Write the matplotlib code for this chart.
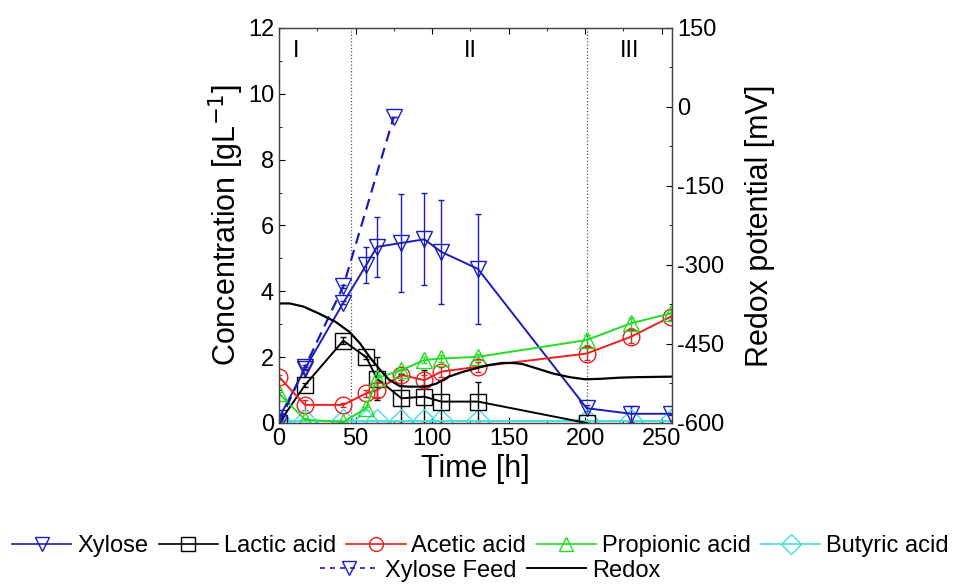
import matplotlib
matplotlib.use("Agg")
import matplotlib.pyplot as plt
from matplotlib.lines import Line2D
from matplotlib.ticker import MultipleLocator

plt.rcParams['font.family'] = ['Liberation Sans', 'DejaVu Sans']
plt.rcParams['axes.unicode_minus'] = False

# sampling times [h]
t = [0, 17, 42, 57, 64, 80, 95, 106, 130, 201, 230, 256]

xylose = [0.15, 1.65, 3.65, 4.8, 5.35, 5.47, 5.58, 5.2, 4.68, 0.45, 0.28, 0.28]
xylose_err = [0.03, 0.05, 0.05, 0.55, 0.9, 1.48, 1.4, 1.58, 1.67, 0.1, 0.25, 0.03]
# lactic acid was not measured after 201 h
t_lactic = [0, 17, 42, 57, 64, 80, 95, 106, 130, 201]
lactic = [0.0, 1.15, 2.5, 2.0, 1.35, 0.75, 0.8, 0.65, 0.65, 0.0]
lactic_err = [0.0, 0.07, 0.1, 0.05, 0.65, 0.75, 0.8, 0.65, 0.6, 0.0]
acetic = [1.4, 0.55, 0.55, 0.9, 1.0, 1.46, 1.3, 1.56, 1.71, 2.11, 2.62, 3.23]
acetic_err = [0.05, 0.15, 0.05, 0.1, 0.2, 0.15, 0.15, 0.15, 0.15, 0.2, 0.2, 0.1]
propionic = [0.9, 0.1, 0.03, 0.45, 1.36, 1.61, 1.91, 1.96, 2.01, 2.52, 3.03, 3.33]
propionic_err = [0.05, 0.05, 0.03, 0.05, 0.1, 0.1, 0.1, 0.1, 0.1, 0.15, 0.15, 0.1]
butyric = [0.05, 0.05, 0.05, 0.05, 0.05, 0.05, 0.05, 0.05, 0.05, 0.05, 0.05, 0.05]

# xylose feed
t_feed = [0, 17, 42, 75]
feed = [0.0, 1.7, 4.15, 9.3]
feed_err = [0.0, 0.05, 0.05, 0.0]

# redox potential [mV]
t_redox = [0, 7, 16, 26, 37, 46, 53, 59, 66, 72, 79, 85, 96, 103, 111, 120,
           129, 137, 146, 153, 159, 168, 179, 190, 200, 211, 222, 233, 257]
redox = [-373, -373, -379, -392, -408, -427, -449, -474, -499, -518, -530, -531,
         -531, -525, -512, -503, -496, -490, -486, -486, -488, -496, -506, -513,
         -517, -516, -514, -513, -512]

phases = [47, 201]
phase_labels = [(11, 'I'), (125, 'II'), (229, 'III')]

blue = '#1c1cb8'
red = '#e82020'
green = '#22dd22'
cyan = '#44e0e0'

fig = plt.figure(figsize=(9.61, 5.87), dpi=100)
ax = fig.add_axes([0.2903, 0.2794, 0.4093, 0.6729])

eb = dict(capsize=2.5, elinewidth=1.0, lw=1.4, mew=1.0, mfc='none')
ax.errorbar(t, xylose, yerr=xylose_err, color=blue, marker='v', ms=12, **eb)
ax.errorbar(t_lactic, lactic, yerr=lactic_err, color='black', marker='s', ms=11, **eb)
ax.errorbar(t, acetic, yerr=acetic_err, color=red, marker='o', ms=12, **eb)
ax.errorbar(t, propionic, yerr=propionic_err, color=green, marker='^', ms=12, **eb)
ax.plot(t, butyric, color=cyan, marker='D', ms=12, mfc='none', mew=1.0, lw=1.4)
ax.errorbar(t_feed, feed, yerr=feed_err, color=blue, marker='v', ms=12,
            ls=(0, (5, 3)), capsize=2.5, elinewidth=1.0, lw=1.6, mew=1.0, mfc='none')

for p in phases:
    ax.axvline(p, color='#555555', ls=':', lw=0.9)
for x, s in phase_labels:
    ax.text(x, 11.3, s, ha='center', va='center', fontsize=17)

ax.set_xlim(0, 257)
ax.set_ylim(0, 12)
ax.xaxis.set_major_locator(MultipleLocator(50))
ax.xaxis.set_minor_locator(MultipleLocator(25))
ax.yaxis.set_major_locator(MultipleLocator(2))
ax.yaxis.set_minor_locator(MultipleLocator(1))
ax.tick_params(which='both', direction='in', top=True, right=False, labelsize=17)
ax.tick_params(which='major', length=4)
ax.tick_params(which='minor', length=2.5)
ax.set_xlabel('Time [h]', fontsize=22, labelpad=3)
ax.set_ylabel('Concentration [gL$^{-1}$]', fontsize=22, labelpad=1)

ax2 = ax.twinx()
ax2.plot(t_redox, redox, color='black', lw=1.6)
ax2.set_ylim(-600, 150)
ax2.yaxis.set_major_locator(MultipleLocator(150))
ax2.yaxis.set_minor_locator(MultipleLocator(75))
ax2.tick_params(which='both', direction='in', labelsize=17)
ax2.tick_params(which='major', length=4)
ax2.tick_params(which='minor', length=2.5)
ax2.set_ylabel('Redox potential [mV]', fontsize=22, labelpad=15)

for a in (ax, ax2):
    for s in a.spines.values():
        s.set_color('#444444')
        s.set_linewidth(0.9)

# legend proxies
def proxy(color, marker, ls='-'):
    return Line2D([], [], color=color, marker=marker, ls=ls, ms=10, mfc='none', mew=1.0, lw=1.2)

row1 = [proxy(blue, 'v'), proxy('black', 's'), proxy(red, 'o'),
        proxy(green, '^'), proxy(cyan, 'D')]
row1_labels = ['Xylose', 'Lactic acid', 'Acetic acid', 'Propionic acid', 'Butyric acid']
row2 = [proxy(blue, 'v', ls=(0, (3, 3))), Line2D([], [], color='black', lw=1.4)]
row2_labels = ['Xylose Feed', 'Redox']

leg_kw = dict(frameon=False, fontsize=17, handlelength=2.5, handletextpad=0.25,
              columnspacing=0.45, borderpad=0, borderaxespad=0)
fig.legend(row1, row1_labels, loc='center', bbox_to_anchor=(0.5, 0.07), ncol=5, **leg_kw)
fig.legend(row2, row2_labels, loc='center', bbox_to_anchor=(0.51, 0.028), ncol=2, **leg_kw)

fig.savefig('out.png', dpi=100)
